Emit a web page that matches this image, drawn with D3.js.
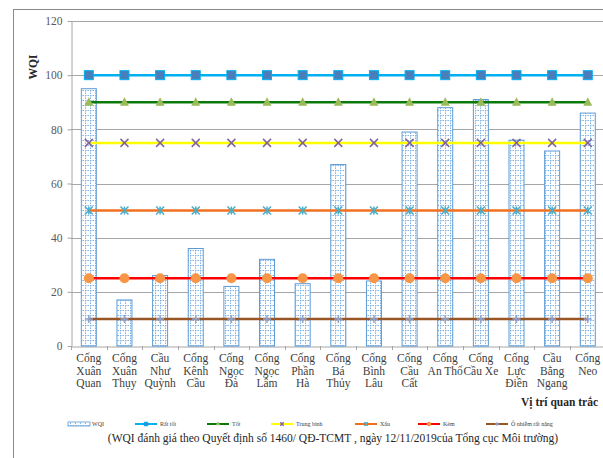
<!DOCTYPE html>
<html><head><meta charset="utf-8">
<script src="https://cdn.jsdelivr.net/npm/d3@7"></script>
<style>body{margin:0;background:#fff}svg{display:block}text{font-family:"Liberation Serif","Times New Roman",serif}</style>
</head><body><svg id="c" width="603" height="458"></svg>
<script>
const categories = [
  ["Cống","Xuân","Quan"],["Cống","Xuân","Thụy"],["Cầu","Như","Quỳnh"],["Cống","Kênh","Cầu"],
  ["Cống","Ngọc","Đà"],["Cống","Ngọc","Lâm"],["Cống","Phần","Hà"],["Cống","Bá","Thủy"],
  ["Cống","Bình","Lâu"],["Cống","Cầu","Cất"],["Cống","An Thổ"],["Cống","Cầu Xe"],
  ["Cống","Lực","Điền"],["Cầu","Bằng","Ngang"],["Cống","Neo"]
];
const wqi = [95, 17, 26, 36, 22, 32, 23, 67, 24, 79, 88, 91, 76, 72, 86];
const thresholdNames = ["Rất tốt","Tốt","Trung bình","Xấu","Kém","Ô nhiễm rất nặng"];
const thresholdValues = [100, 90, 75, 50, 25, 10];
const yTicks = [0, 20, 40, 60, 80, 100, 120];
const styles = [
  {line:"#00B0F0", marker:"square", fill:"#4A7EBB", stroke:"#00B0F0"},
  {line:"#0B7A0B", marker:"triangle", fill:"#9BBB59", stroke:"#9BBB59"},
  {line:"#FFFF00", marker:"x", fill:"none", stroke:"#8064A2"},
  {line:"#F07020", marker:"asterisk", fill:"none", stroke:"#4BACC6"},
  {line:"#FF0000", marker:"circle", fill:"#F79646", stroke:"#F79646"},
  {line:"#9A5525", marker:"plus", fill:"none", stroke:"#8EA4D2"}
];

const svg = d3.select("#c");
const keys = categories.map((d,i)=>"c"+i);
const x = d3.scaleBand().domain(keys).range([71, 605.6]).padding(0);
const y = d3.scaleLinear().domain([0,120]).range([346, 21]);

// pattern
const defs = svg.append("defs");
const pat = defs.append("pattern").attr("id","grid").attr("patternUnits","userSpaceOnUse")
  .attr("width",5).attr("height",5).attr("x",0).attr("y",0);
pat.append("rect").attr("width",5).attr("height",5).attr("fill","#fff");
pat.append("path").attr("d","M0,0.5H5M0.5,0V5").attr("stroke","#7FB2E5").attr("stroke-width",1).attr("stroke-dasharray","1.5,1");

// outer border
svg.append("rect").attr("x",13.5).attr("y",9.5).attr("width",620).attr("height",470)
  .attr("fill","none").attr("stroke","#8a8a8a");

// gridlines
svg.append("g").selectAll("line").data(yTicks.filter(d=>d>0)).join("line")
  .attr("x1",71).attr("x2",610).attr("y1",d=>Math.round(y(d))+0.5).attr("y2",d=>Math.round(y(d))+0.5)
  .attr("stroke","#A6A6A6").attr("stroke-width",1);

// y axis
const yAxis = svg.append("g").attr("transform","translate(71.5,0)")
  .call(d3.axisLeft(y).tickValues(yTicks).tickSize(4).tickPadding(5).tickSizeOuter(0));
yAxis.select(".domain").attr("stroke","#A6A6A6");
yAxis.selectAll(".tick line").attr("stroke","#A6A6A6");
yAxis.selectAll(".tick text").attr("fill","#595959").attr("font-size","11.5px");

// x axis
const xAxis = svg.append("g").attr("transform","translate(0,346.5)")
  .call(d3.axisBottom(x).tickValues([]).tickSizeOuter(0));
xAxis.select(".domain").attr("stroke","#A6A6A6");
svg.append("g").selectAll("line").data(keys).join("line")
  .attr("x1",d=>Math.round(x(d))+0.5).attr("x2",d=>Math.round(x(d))+0.5)
  .attr("y1",346).attr("y2",350).attr("stroke","#A6A6A6");

// bars
svg.append("g").selectAll("rect").data(wqi).join("rect")
  .attr("x",(d,i)=>x(keys[i])+x.bandwidth()/2-7.5).attr("width",15)
  .attr("y",d=>y(d)).attr("height",d=>y(0)-y(d))
  .attr("fill","url(#grid)").attr("stroke","#5B9BD5").attr("stroke-width",1);

// marker drawer
function drawMarker(g, type, s, cx, cy, size){
  const r = size/2;
  if(type==="square") g.append("rect").attr("x",cx-r).attr("y",cy-r).attr("width",size).attr("height",size)
      .attr("fill",s.fill).attr("stroke",s.stroke).attr("stroke-width",1);
  else if(type==="triangle") g.append("path").attr("d",`M${cx},${cy-r-1}L${cx+r+0.5},${cy+r-0.5}L${cx-r-0.5},${cy+r-0.5}Z`).attr("fill",s.fill);
  else if(type==="circle") g.append("circle").attr("cx",cx).attr("cy",cy).attr("r",r+0.5).attr("fill",s.fill);
  else if(type==="x") g.append("path").attr("d",`M${cx-r},${cy-r}L${cx+r},${cy+r}M${cx-r},${cy+r}L${cx+r},${cy-r}`).attr("stroke",s.stroke).attr("stroke-width",1.5);
  else if(type==="asterisk") g.append("path").attr("d",`M${cx-r},${cy-r}L${cx+r},${cy+r}M${cx-r},${cy+r}L${cx+r},${cy-r}M${cx},${cy-r}L${cx},${cy+r}`).attr("stroke",s.stroke).attr("stroke-width",1.5);
  else if(type==="plus") g.append("path").attr("d",`M${cx-r},${cy}L${cx+r},${cy}M${cx},${cy-r}L${cx},${cy+r}`).attr("stroke",s.stroke).attr("stroke-width",1.5);
}

// threshold lines
const cx = k => x(k)+x.bandwidth()/2;
const lineGen = d3.line().x(d=>d[0]).y(d=>d[1]);
thresholdValues.forEach((v,si)=>{
  const s = styles[si];
  const pts = keys.map(k=>[cx(k), y(v)]);
  const g = svg.append("g");
  g.append("path").attr("d",lineGen(pts)).attr("fill","none").attr("stroke",s.line).attr("stroke-width",2.5);
  pts.forEach(p=>drawMarker(g, s.marker, s, p[0], p[1], s.marker==="square"?9:(s.marker==="circle"?9:8)));
});

// category labels
const lab = svg.append("g");
categories.forEach((lines,i)=>{
  const t = lab.append("text").attr("x",cx(keys[i])).attr("text-anchor","middle")
    .attr("font-size","11.5px").attr("fill","#404040");
  lines.forEach((ln,j)=>t.append("tspan").attr("x",cx(keys[i])).attr("y",362+j*12.6).text(ln));
});

// axis titles
svg.append("text").attr("transform","translate(37,67) rotate(-90)").attr("text-anchor","middle")
  .attr("font-size","11.5px").attr("font-weight","bold").attr("fill","#262626").text("WQI");
svg.append("text").attr("x",521).attr("y",406).attr("font-size","11.5px").attr("font-weight","bold")
  .attr("fill","#262626").text("Vị trí quan trắc");

// legend
const lg = svg.append("g");
lg.append("rect").attr("x",68).attr("y",422).attr("width",22).attr("height",4)
  .attr("fill","url(#grid)").attr("stroke","#5B9BD5").attr("stroke-width",0.8);
lg.append("text").attr("x",92).attr("y",426).attr("font-size","6px").attr("fill","#404040").text("WQI");
const legX = [135, 207, 271, 355, 418, 486];
thresholdNames.forEach((nm,i)=>{
  const s = styles[i];
  lg.append("line").attr("x1",legX[i]).attr("x2",legX[i]+22).attr("y1",424).attr("y2",424)
    .attr("stroke",s.line).attr("stroke-width",2);
  drawMarker(lg, s.marker, s, legX[i]+11, 424, 3.5);
  lg.append("text").attr("x",legX[i]+25).attr("y",426).attr("font-size","6px").attr("fill","#404040").text(nm);
});

// caption
svg.append("text").attr("x",333).attr("y",442).attr("text-anchor","middle").attr("font-size","11.5px")
  .attr("fill","#262626").text("(WQI đánh giá theo Quyết định số 1460/ QĐ-TCMT , ngày 12/11/2019của Tổng cục Môi trường)");
</script></body></html>
